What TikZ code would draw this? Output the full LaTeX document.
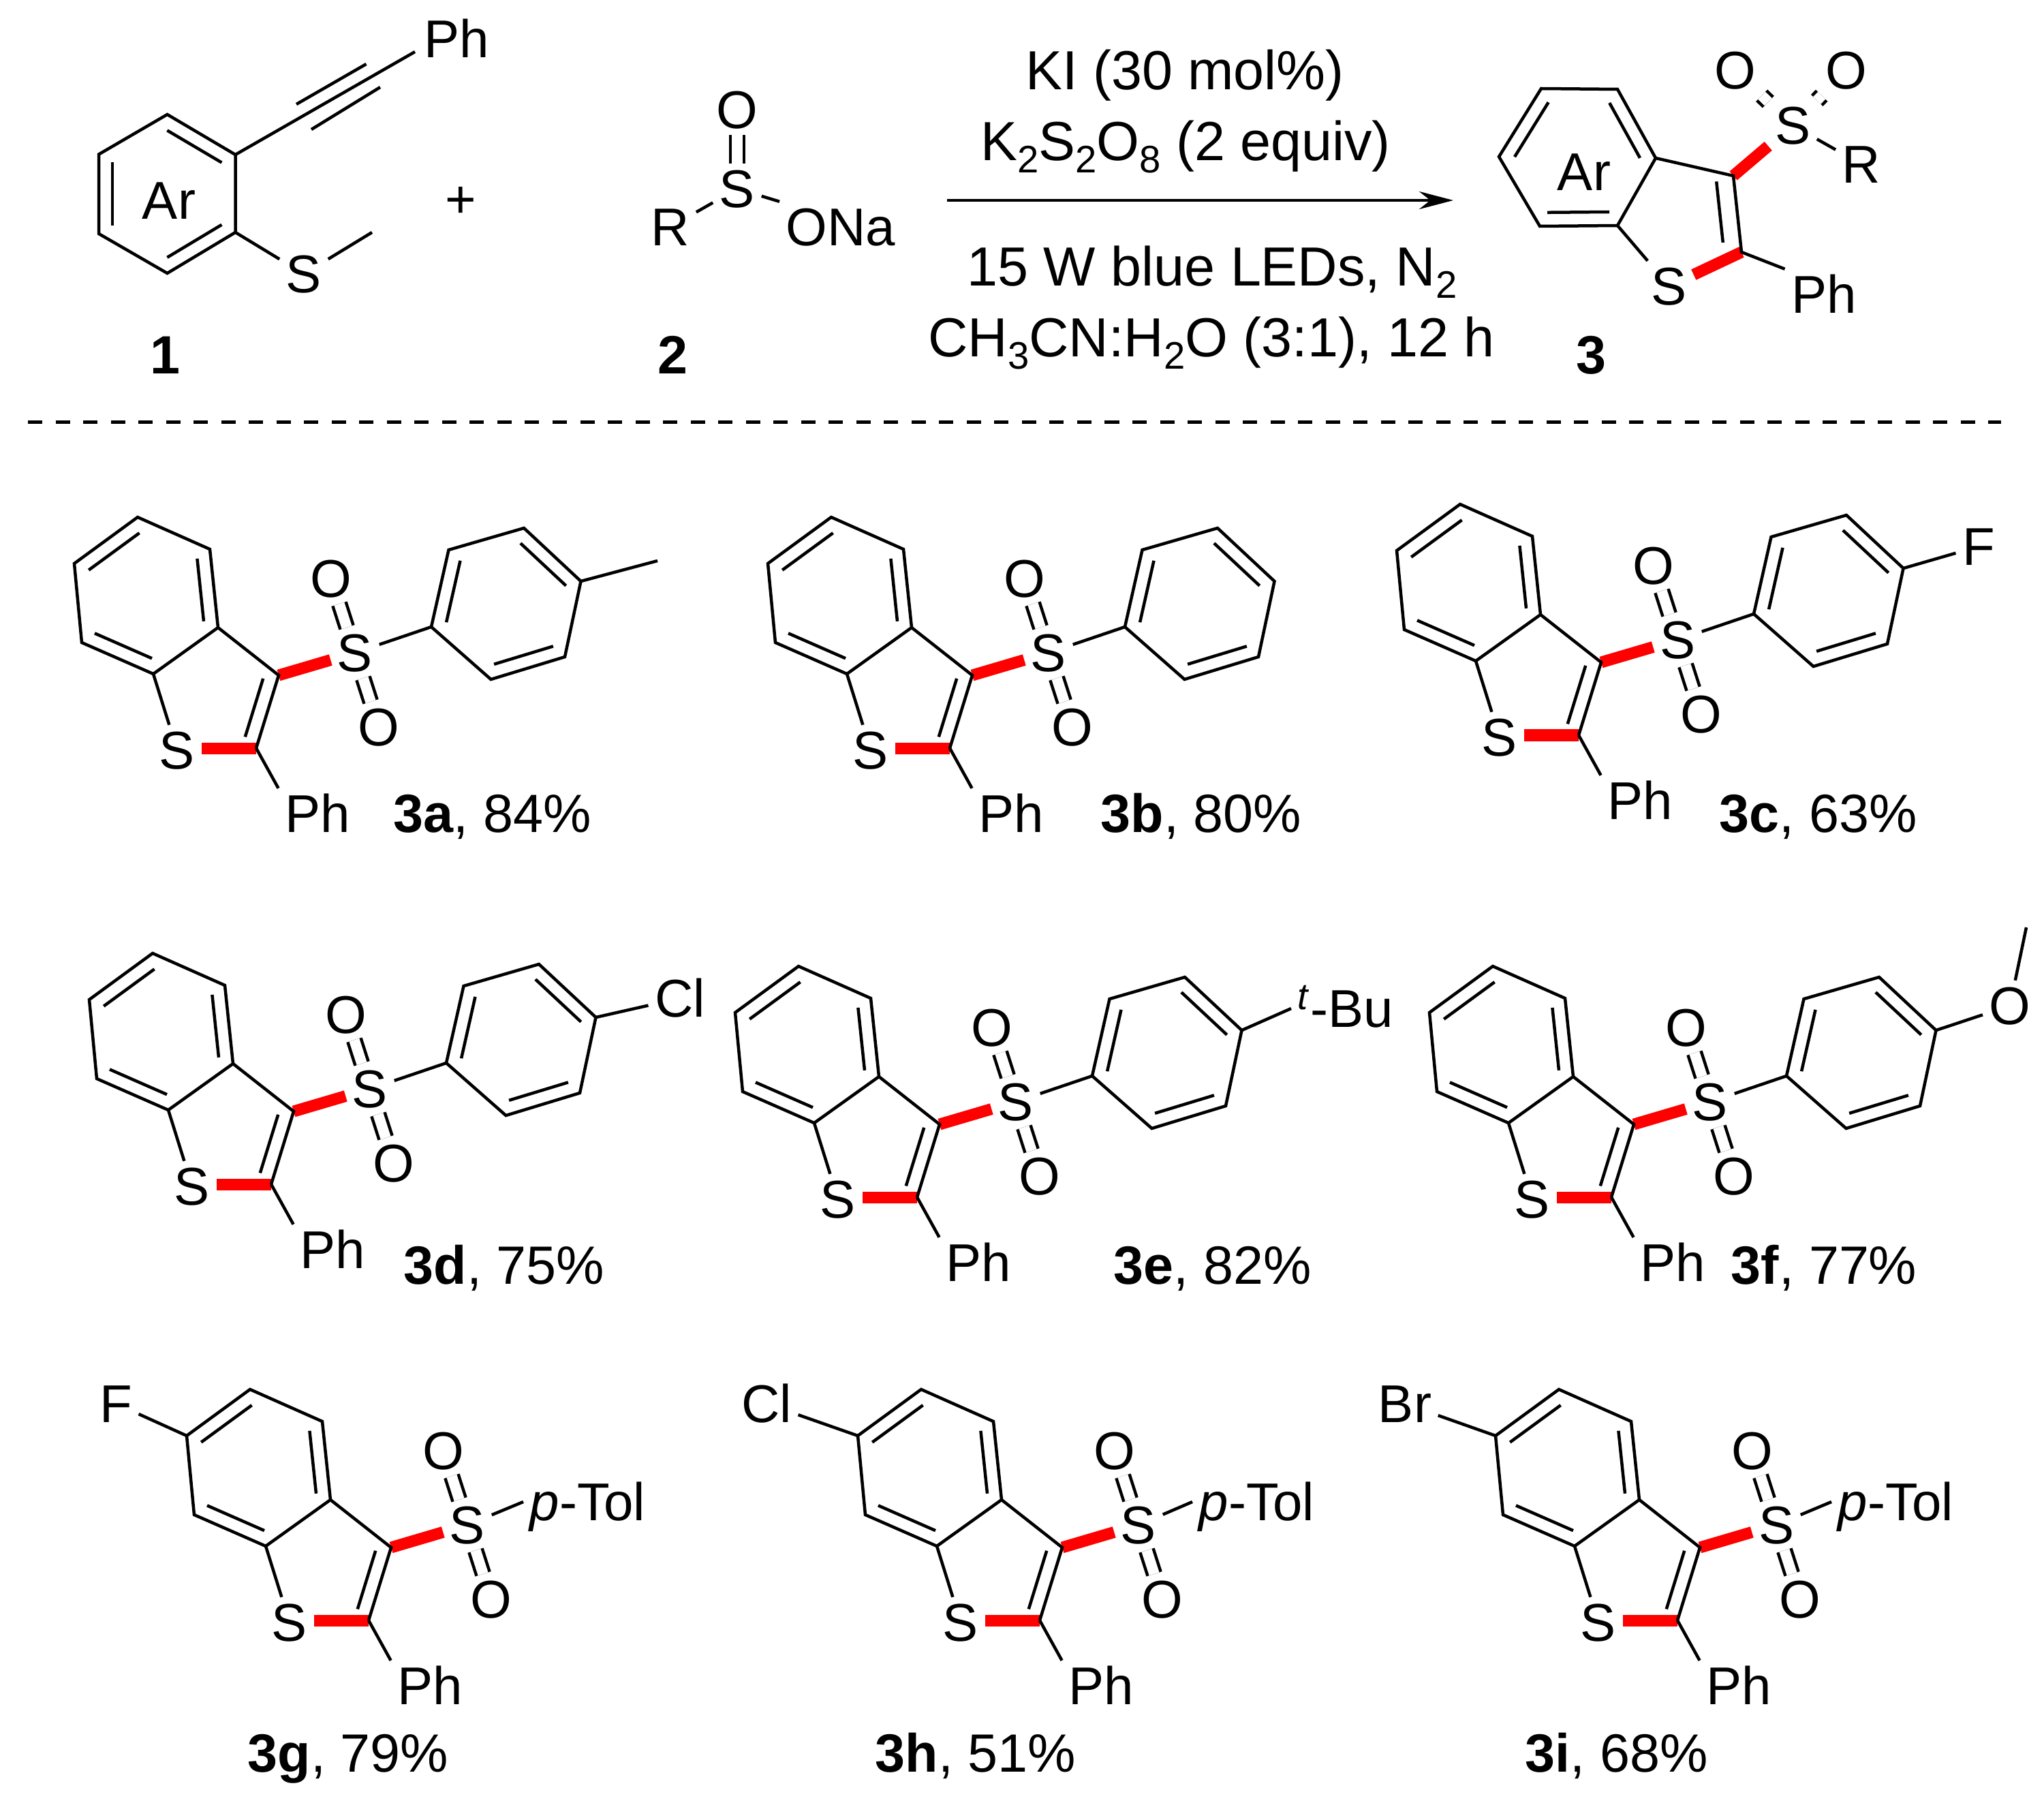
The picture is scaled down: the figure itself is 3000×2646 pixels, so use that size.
\documentclass[tikz,border=0pt]{standalone}
\usepackage{fontspec}
\setmainfont{Liberation Sans}
\usetikzlibrary{arrows.meta,calc}
\newcommand{\chemfont}{\fontsize{22.2}{26}\selectfont}
\newcommand{\yieldfont}{\fontsize{22.5}{26}\selectfont}
\newcommand{\condfont}{\fontsize{23}{27}\selectfont}
\newcommand{\lowsub}[1]{\raisebox{-0.17cm}{\fontsize{16}{17}\selectfont #1}}
\tikzset{
    bond/.style={line width=0.045cm},
    redbond/.style={line width=0.17cm,color=red},
    dblbond/.style={line width=0.045cm,double,double distance=0.155cm},
    atom/.style={font=\chemfont,inner sep=0.09cm,text height=0.55cm,text depth=0cm},
    label/.style={font=\yieldfont,inner sep=0pt,anchor=base west},
    condition/.style={font=\condfont,inner sep=0pt,anchor=base}
}
% inner line of a double bond: ring centre, then the two ring atoms
\newcommand{\innerbond}[3]{\draw[bond] ($(#1)!.8!(#2)$) -- ($(#1)!.8!(#3)$);}
% benzothiophene with SO2 and Ph, placed by its ring S
\newcommand{\thiocore}[3]{
    \begin{scope}[shift={(#2,#3)},name prefix=#1-]
        \coordinate (a1) at (-58,-342);
        \coordinate (a2) at (48,-295);
        \coordinate (a3) at (60,-180);
        \coordinate (a4) at (-35,-112);
        \coordinate (a5) at (-140,-158);
        \coordinate (a6) at (-151,-274);
        \coordinate (acen) at (-45,-226);
        \coordinate (c3) at (149,-110);
        \coordinate (c2) at (116,-3);
        \coordinate (tcen) at (35,-86);
        \node[atom] (S1) at (0,0) {S};
        \node[atom] (S2) at (261,-143) {S};
        \node[atom] (O1) at (226,-252) {O};
        \node[atom] (O2) at (296,-34) {O};
        \node[atom] (Ph) at (206,93) {Ph};
        \draw[redbond] (c3) -- (S2);
        \draw[redbond] (c2) -- (c2 -| S1.east);
        \draw[bond] (a1) -- (a2) -- (a3) -- (a4) -- (a5) -- (a6) -- cycle;
        \draw[bond] (a3) -- (c3) -- (c2);
        \draw[bond] (a4) -- (S1);
        \draw[bond] (c2) -- (Ph.north west);
        \draw[dblbond] (S2) -- (O1);
        \draw[dblbond] (S2) -- (O2);
        \innerbond{acen}{a1}{a6}
        \innerbond{acen}{a2}{a3}
        \innerbond{acen}{a4}{a5}
        \innerbond{tcen}{c3}{c2}
    \end{scope}
}
% para-substituted ring on the sulfonyl S
\newcommand{\sulfaryl}[3]{
    \begin{scope}[shift={(#2,#3)},name prefix=#1-]
        \coordinate (b1) at (373,-181);
        \coordinate (b2) at (398.5,-294);
        \coordinate (b3) at (509,-326);
        \coordinate (b4) at (592.5,-248);
        \coordinate (b5) at (569,-137);
        \coordinate (b6) at (460.5,-104);
        \coordinate (bcen) at (483.5,-215);
        \draw[bond] (b1) -- (b2) -- (b3) -- (b4) -- (b5) -- (b6) -- cycle;
        \draw[bond] (S2) -- (b1);
        \innerbond{bcen}{b1}{b2}
        \innerbond{bcen}{b3}{b4}
        \innerbond{bcen}{b5}{b6}
    \end{scope}
}
\begin{document}
\begin{tikzpicture}[x=0.01cm,y=-0.01cm]
    \useasboundingbox (0,0) rectangle (3000,2646);
    % substrate 1
    \coordinate (r1) at (245.5,168);
    \coordinate (r2) at (345.5,227);
    \coordinate (r3) at (345.5,341);
    \coordinate (r4) at (245.5,401);
    \coordinate (r5) at (145,343);
    \coordinate (r6) at (145,226.5);
    \coordinate (rcen) at (245,285);
    \coordinate (alkyne) at (609,76);
    \coordinate (alkA) at (435,153);
    \coordinate (alkB) at (537.5,94);
    \coordinate (alkC) at (457,190);
    \coordinate (alkD) at (558,128);
    \coordinate (methyl) at (546,341);
    \node[atom] (phA) at (670,57) {Ph};
    \node[atom] (sA) at (446,402) {S};
    \node[atom] (arA) at (248,294) {Ar};
    \draw[bond] (r1) -- (r2) -- (r3) -- (r4) -- (r5) -- (r6) -- cycle;
    \draw[bond] (r2) -- (alkyne);
    \draw[bond] (alkA) -- (alkB);
    \draw[bond] (alkC) -- (alkD);
    \draw[bond] (r3) -- (sA) -- (methyl);
    \innerbond{rcen}{r1}{r2}
    \innerbond{rcen}{r3}{r4}
    \innerbond{rcen}{r5}{r6}
    \node[atom] (plus) at (676,292) {+};
    \node[label,anchor=base] (lab1) at (243,549) {\textbf{1}};
    % sulfinate 2
    \node[atom] (rB) at (984,333) {R};
    \node[atom] (sB) at (1082,277) {S};
    \node[atom] (oB) at (1082,161) {O};
    \node[atom] (onaB) at (1234,333) {ONa};
    \draw[dblbond] (sB) -- (oB);
    \draw[bond] (rB) -- (sB);
    \draw[bond] (sB) -- (onaB.north west);
    \node[label,anchor=base] (lab2) at (987,549) {\textbf{2}};
    % conditions
    \coordinate (arrowA) at (1390,294);
    \coordinate (arrowB) at (2133,294);
    \draw[bond,-{Stealth[length=0.5cm,width=0.26cm]}] (arrowA) -- (arrowB);
    \node[condition] (cond1) at (1739,132) {KI (30 mol\%)};
    \node[condition] (cond2) at (1740,236) {K\lowsub{2}S\lowsub{2}O\lowsub{8} (2 equiv)};
    \node[condition] (cond3) at (1779,420) {15 W blue LEDs, N\lowsub{2}};
    \node[condition] (cond4) at (1778,524) {CH\lowsub{3}CN:H\lowsub{2}O (3:1), 12 h};
    % product 3
    \coordinate (p1) at (2262,130);
    \coordinate (p2) at (2374,131);
    \coordinate (p3) at (2430,232);
    \coordinate (p4) at (2374,331);
    \coordinate (p5) at (2260,332);
    \coordinate (p6) at (2200,230);
    \coordinate (pcen) at (2315,231);
    \coordinate (pc3) at (2544,258);
    \coordinate (pc2) at (2556,370);
    \coordinate (ptc) at (2420,300);
    \node[atom] (sP) at (2450,420) {S};
    \node[atom] (soP) at (2631,184) {S};
    \node[atom] (oaP) at (2547,103) {O};
    \node[atom] (obP) at (2710,103) {O};
    \node[atom] (rP) at (2732,241) {R};
    \node[atom] (phP) at (2677,432) {Ph};
    \node[atom] (arP) at (2325,252) {Ar};
    \draw[redbond] (pc3) -- (soP);
    \draw[redbond] (pc2) -- (sP);
    \draw[bond] (p1) -- (p2) -- (p3) -- (p4) -- (p5) -- (p6) -- cycle;
    \draw[bond] (p3) -- (pc3) -- (pc2) -- (phP.north west);
    \draw[bond] (p4) -- (sP);
    \draw[bond] (soP) -- (rP);
    \draw[dblbond] (soP) -- (oaP);
    \draw[dblbond] (soP) -- (obP);
    \innerbond{pcen}{p1}{p6}
    \innerbond{pcen}{p2}{p3}
    \innerbond{pcen}{p4}{p5}
    \innerbond{ptc}{pc3}{pc2}
    \node[label,anchor=base] (lab3) at (2335,549) {\textbf{3}};
    % separator
    \coordinate (sepA) at (41,619.5);
    \coordinate (sepB) at (2937,619.5);
    \draw[bond,dash pattern=on 0.21cm off 0.195cm] (sepA) -- (sepB);
    % products 3a-3f
    \thiocore{a}{260}{1101}
    \sulfaryl{a}{260}{1101}
    \coordinate (meA) at (965,823);
    \draw[bond] (a-b4) -- (meA);
    \node[label] (lab3a) at (577,1221) {\textbf{3a}, 84\%};
    \thiocore{b}{1278}{1101}
    \sulfaryl{b}{1278}{1101}
    \node[label] (lab3b) at (1615,1221) {\textbf{3b}, 80\%};
    \thiocore{c}{2201}{1082}
    \sulfaryl{c}{2201}{1082}
    \node[atom] (fC) at (2904,802) {F};
    \draw[bond] (c-b4) -- (fC);
    \node[label] (lab3c) at (2523,1221) {\textbf{3c}, 63\%};
    \thiocore{d}{282}{1741}
    \sulfaryl{d}{282}{1741}
    \node[atom] (clD) at (998,1465) {Cl};
    \draw[bond] (d-b4) -- (clD);
    \node[label] (lab3d) at (592,1884) {\textbf{3d}, 75\%};
    \thiocore{e}{1230}{1760}
    \sulfaryl{e}{1230}{1760}
    \node[atom,anchor=west] (buE) at (1895,1480) {\textsuperscript{\textit{t}}-Bu};
    \draw[bond] (e-b4) -- (buE.west);
    \node[label] (lab3e) at (1634,1884) {\textbf{3e}, 82\%};
    \thiocore{f}{2249}{1760}
    \sulfaryl{f}{2249}{1760}
    \node[atom] (oF) at (2950,1476) {O};
    \coordinate (meF) at (2974,1361);
    \draw[bond] (f-b4) -- (oF) -- (meF);
    \node[label] (lab3f) at (2540,1884) {\textbf{3f}, 77\%};
    % products 3g-3i
    \thiocore{g}{425}{2381}
    \node[atom] (fG) at (170,2060) {F};
    \node[atom,anchor=west] (tolG) at (768,2204) {\textit{p}-Tol};
    \draw[bond] (g-a6) -- (fG);
    \draw[bond] (g-S2) -- (tolG.west);
    \node[label] (lab3g) at (363,2600) {\textbf{3g}, 79\%};
    \thiocore{h}{1410}{2381}
    \node[atom] (clH) at (1125,2060) {Cl};
    \node[atom,anchor=west] (tolH) at (1750,2204) {\textit{p}-Tol};
    \draw[bond] (h-a6) -- (clH);
    \draw[bond] (h-S2) -- (tolH.west);
    \node[label] (lab3h) at (1284,2600) {\textbf{3h}, 51\%};
    \thiocore{i}{2346}{2381}
    \node[atom] (brI) at (2062,2060) {Br};
    \node[atom,anchor=west] (tolI) at (2688,2204) {\textit{p}-Tol};
    \draw[bond] (i-a6) -- (brI);
    \draw[bond] (i-S2) -- (tolI.west);
    \node[label] (lab3i) at (2238,2600) {\textbf{3i}, 68\%};
\end{tikzpicture}
\end{document}
